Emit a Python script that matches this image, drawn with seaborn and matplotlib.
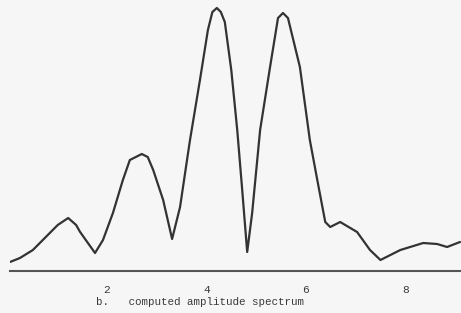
import numpy as np
import pandas as pd
import matplotlib
matplotlib.use("Agg")
import matplotlib.pyplot as plt
import seaborn as sns

# values (frequency, amplitude in arbitrary units)
frekans = [0.05, 0.25, 0.51, 0.85, 1.01, 1.22, 1.38, 1.46, 1.76, 1.92, 2.12, 2.32,
           2.46, 2.70, 2.82, 2.93, 3.13, 3.31, 3.47, 3.61, 3.67, 3.87, 4.03, 4.12,
           4.21, 4.29, 4.37, 4.50, 4.62, 4.72, 4.82, 4.92, 5.08, 5.28, 5.44, 5.54,
           5.64, 5.88, 6.08, 6.23, 6.39, 6.49, 6.69, 7.03, 7.29, 7.50, 7.90, 8.36,
           8.64, 8.84, 9.10]
genlik = [9, 13, 21, 38, 46, 53, 46, 39, 18, 31, 58, 91,
          111, 117, 114, 101, 71, 32, 64, 111, 131, 191, 241, 259,
          263, 259, 249, 201, 141, 81, 19, 58, 141, 204, 253, 258,
          253, 204, 131, 91, 49, 44, 49, 39, 21, 11, 21, 28,
          27, 24, 29]
tick_degerleri = [2, 4, 6, 8]
tick_etiketleri = ["2", "4", "6", "8"]
baslik = "b.   computed amplitude spectrum"

df = pd.DataFrame({"frekans": frekans, "genlik": genlik})

sns.set_style("white")
plt.rcParams["font.family"] = ["Liberation Mono", "DejaVu Sans Mono"]

fig = plt.figure(figsize=(4.61, 3.13), dpi=100, facecolor="#f6f6f7")
ax = fig.add_axes([10 / 461, 42 / 313, 451 / 461, 271 / 313])
ax.set_facecolor("#f6f6f7")

sns.lineplot(data=df, x="frekans", y="genlik", ax=ax, color="#333333",
             linewidth=1.6, sort=False)

ax.set_xlim(0.05, 9.12)
ax.set_ylim(0, 271)

for s in ["left", "top", "right"]:
    ax.spines[s].set_visible(False)
ax.spines["bottom"].set_color("#555555")
ax.spines["bottom"].set_linewidth(1.5)

ax.set_yticks([])
ax.set_xticks(tick_degerleri)
ax.set_xticklabels(tick_etiketleri, fontsize=8, color="#3a3a3a")
ax.tick_params(axis="x", direction="out", length=5, width=1.3, color="#555555", pad=5)
ax.set_xlabel("")
ax.set_ylabel("")

fig.text(200 / 461, 1 - 302 / 313, baslik, ha="center", va="center",
         fontsize=7.8, color="#3a3a3a")

fig.savefig("out.png", dpi=100, facecolor=fig.get_facecolor())
